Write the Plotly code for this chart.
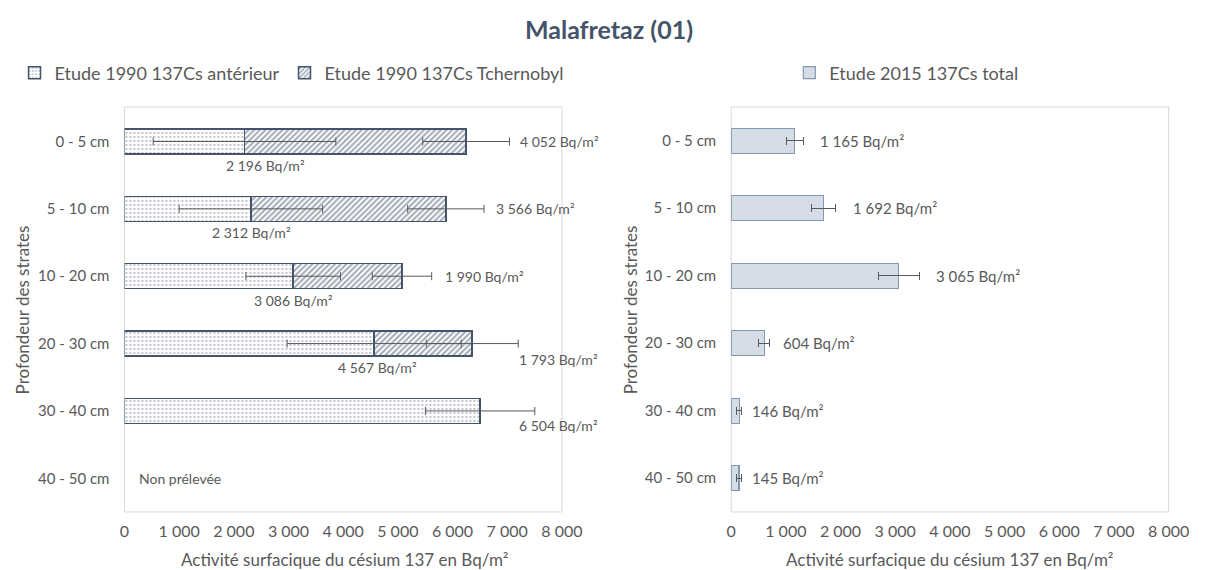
import plotly.graph_objects as go

categories = ["0 - 5 cm", "5 - 10 cm", "10 - 20 cm", "20 - 30 cm", "30 - 40 cm", "40 - 50 cm"]

# 1990 study (stacked)
ant_1990 = [2196, 2312, 3086, 4567, 6504, None]
ant_1990_err = [1670, 1312, 865, 1592, 1000, None]
tch_1990 = [4052, 3566, 1990, 1793, None, None]
tch_1990_err = [793, 698, 543, 841, None, None]

# 2015 study
tot_2015 = [1165, 1692, 3065, 604, 146, 145]
tot_2015_err = [150, 225, 372, 95, 52, 50]

x_ticks = [0, 1000, 2000, 3000, 4000, 5000, 6000, 7000, 8000]
x_tick_text = ["0", "1 000", "2 000", "3 000", "4 000", "5 000", "6 000", "7 000", "8 000"]

FONT = "Lato"
TXT = "#595959"
NAVY = "#44546a"
ERR = "#595959"


def fmt(v):
    return f"{v:,.0f}".replace(",", " ") + " Bq/m²"


tot_1990 = [a + t if (a is not None and t is not None) else None for a, t in zip(ant_1990, tch_1990)]

fig = go.Figure()

fig.add_trace(go.Bar(
    y=categories, x=ant_1990, orientation="h", name="Etude 1990 137Cs antérieur",
    marker=dict(color="white", line=dict(color=NAVY, width=1.5),
                pattern=dict(shape=".", fgcolor=NAVY, bgcolor="white", size=4, solidity=0.16)),
    xaxis="x", yaxis="y", legend="legend",
))
fig.add_trace(go.Bar(
    y=categories, x=tch_1990, orientation="h", name="Etude 1990 137Cs Tchernobyl",
    marker=dict(color="white", line=dict(color=NAVY, width=1.5),
                pattern=dict(shape="/", fgcolor=NAVY, bgcolor="white", size=4, solidity=0.5)),
    xaxis="x", yaxis="y", legend="legend",
))
# error bars of the 1990 series, drawn on top of both stacked segments
fig.add_trace(go.Scatter(
    y=categories, x=ant_1990, mode="markers", marker=dict(size=1, opacity=0),
    error_x=dict(type="data", array=ant_1990_err, color=ERR, thickness=1, width=4),
    xaxis="x", yaxis="y", showlegend=False, hoverinfo="skip",
))
fig.add_trace(go.Scatter(
    y=categories, x=tot_1990, mode="markers", marker=dict(size=1, opacity=0),
    error_x=dict(type="data", array=tch_1990_err, color=ERR, thickness=1, width=4),
    xaxis="x", yaxis="y", showlegend=False, hoverinfo="skip",
))
fig.add_trace(go.Bar(
    y=categories, x=tot_2015, orientation="h", name="Etude 2015 137Cs total",
    marker=dict(color="#d6dce5", line=dict(color="#8497b0", width=1.2)),
    error_x=dict(type="data", array=tot_2015_err, color=ERR, thickness=1, width=4),
    xaxis="x2", yaxis="y2", legend="legend2",
))

ann = []
LBL_L = dict(family=FONT, size=14, color=TXT)
LBL_R = dict(family=FONT, size=15, color=TXT)
# antérieur labels (below the bar ends)
ant_xshift = [21, 1, 0, 3]
for c, v, xs in zip(categories[:4], ant_1990[:4], ant_xshift):
    ann.append(dict(x=v, y=c, xref="x", yref="y", text=fmt(v), showarrow=False,
                    xanchor="center", yanchor="middle", yshift=-24, xshift=xs, font=LBL_L))
# Tchernobyl labels (right of the error bars)
tch_shift = [(9, 0), (10, 0), (11, 0), (-1, -16)]
for c, tt, t, e, (xs, ys) in zip(categories[:4], tot_1990, tch_1990, tch_1990_err, tch_shift):
    ann.append(dict(x=tt + e, y=c, xref="x", yref="y", text=fmt(t), showarrow=False,
                    xanchor="left", yanchor="middle", xshift=xs, yshift=ys, font=LBL_L))
# 30-40 antérieur label (only series in that row)
ann.append(dict(x=ant_1990[4] + ant_1990_err[4], y=categories[4], xref="x", yref="y",
                text=fmt(ant_1990[4]), showarrow=False, xanchor="left", yanchor="middle",
                xshift=-18, yshift=-15, font=LBL_L))
ann.append(dict(x=0, y=categories[5], xref="x", yref="y", text="Non prélevée", showarrow=False,
                xanchor="left", yanchor="middle", xshift=13,
                font=dict(family=FONT, size=14, color=TXT)))
# 2015 labels
r_shift = [15, 15, 15, 12, 8, 8]
for c, v, e, xs in zip(categories, tot_2015, tot_2015_err, r_shift):
    ann.append(dict(x=v + e, y=c, xref="x2", yref="y2", text=fmt(v), showarrow=False,
                    xanchor="left", yanchor="middle", xshift=xs, font=LBL_R))

# axis titles
for xc in (0.015, 0.525):
    ann.append(dict(x=xc, y=0.457, xref="paper", yref="paper", text="Profondeur des strates",
                    textangle=-90, showarrow=False, xanchor="center", yanchor="middle",
                    font=dict(family=FONT, size=17, color=TXT)))
for xc in (0.2855, 0.7927):
    ann.append(dict(x=xc, y=0.019, xref="paper", yref="paper",
                    text="Activité surfacique du césium 137 en Bq/m²",
                    showarrow=False, xanchor="center", yanchor="middle",
                    font=dict(family=FONT, size=17, color=TXT)))

xax = dict(range=[0, 8000], tickvals=x_ticks, ticktext=x_tick_text, showgrid=False,
           zeroline=False, showline=False, ticks="", ticklabelstandoff=8,
           tickfont=dict(family=FONT, size=16, color=TXT), fixedrange=True)
yax = dict(categoryorder="array", categoryarray=categories, autorange="reversed",
           showgrid=False, zeroline=False, showline=False, ticks="", ticklabelstandoff=14,
           tickfont=dict(family=FONT, size=15, color=TXT))

ydom = [0.1018, 0.8123]
LEG_FONT = dict(family=FONT, size=18, color=TXT)
fig.update_layout(
    width=1218, height=570, autosize=False,
    margin=dict(l=0, r=0, t=0, b=0),
    paper_bgcolor="white", plot_bgcolor="white",
    barmode="stack", bargap=0.63,
    title=dict(text="<b>Malafretaz (01)</b>", x=0.5, xanchor="center", y=0.947, yanchor="middle",
               font=dict(family=FONT, size=25, color=NAVY)),
    xaxis=dict(domain=[0.1002, 0.4672], anchor="y", **xax),
    yaxis=dict(domain=ydom, anchor="x", **yax),
    xaxis2=dict(domain=[0.6092, 0.9762], anchor="y2", **xax),
    yaxis2=dict(domain=ydom, anchor="x2", **yax),
    legend=dict(orientation="h", x=0.008, y=0.872, xanchor="left", yanchor="middle",
                font=LEG_FONT, itemwidth=30, traceorder="normal", bgcolor="rgba(0,0,0,0)"),
    legend2=dict(orientation="h", x=0.658, y=0.872, xanchor="left", yanchor="middle",
                 font=LEG_FONT, itemwidth=30, bgcolor="rgba(0,0,0,0)"),
    annotations=ann,
    shapes=[
        dict(type="rect", xref="x domain", yref="y domain", x0=0, x1=1, y0=0, y1=1,
             line=dict(color="#d9d9d9", width=1), layer="below"),
        dict(type="rect", xref="x2 domain", yref="y2 domain", x0=0, x1=1, y0=0, y1=1,
             line=dict(color="#d9d9d9", width=1), layer="below"),
    ],
)

fig.write_html("out.html", config={"displayModeBar": False},
               post_script="document.body.style.margin='0px';document.body.style.overflow='hidden';")
